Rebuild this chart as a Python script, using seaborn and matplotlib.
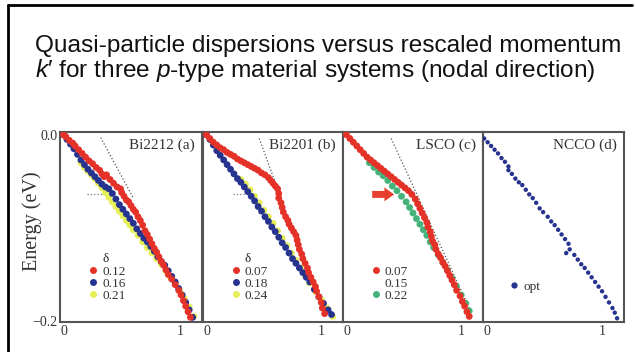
import pandas as pd
import matplotlib.pyplot as plt
import seaborn as sns
from matplotlib.lines import Line2D

sns.set_style("white")
plt.rcParams.update({
    'font.family': ['Liberation Serif', 'DejaVu Serif'],
    'mathtext.fontset': 'custom',
    'mathtext.rm': 'Liberation Sans',
    'mathtext.it': 'Liberation Sans:italic',
})

# ---- datos (k', energia en eV) ----
a_red_k = [0, 0.02, 0.05, 0.08, 0.10, 0.13, 0.16, 0.19, 0.22, 0.25, 0.28, 0.31, 0.33, 0.35, 0.37, 0.40,
           0.43, 0.46, 0.49, 0.50, 0.52, 0.54, 0.56, 0.58, 0.60, 0.62, 0.64, 0.66, 0.68, 0.70, 0.72, 0.74,
           0.76, 0.78, 0.80, 0.82, 0.84, 0.86, 0.88, 0.90, 0.93, 0.96, 0.99, 1.01, 1.03, 1.05, 1.07, 1.09]
a_red_e = [0, -0.002, -0.006, -0.009, -0.012, -0.016, -0.020, -0.024, -0.028, -0.031, -0.035, -0.038,
           -0.042, -0.045, -0.043, -0.048, -0.052, -0.056, -0.058, -0.062, -0.066, -0.070, -0.072, -0.076,
           -0.080, -0.083, -0.088, -0.092, -0.097, -0.103, -0.107, -0.112, -0.117, -0.122, -0.126, -0.131,
           -0.136, -0.140, -0.145, -0.150, -0.155, -0.161, -0.167, -0.172, -0.178, -0.184, -0.190, -0.196]
a_blue_k = [0, 0.03, 0.06, 0.09, 0.12, 0.15, 0.18, 0.21, 0.24, 0.27, 0.30, 0.33, 0.36, 0.39, 0.42, 0.45,
            0.48, 0.51, 0.54, 0.57, 0.60, 0.63, 0.66, 0.69, 0.72, 0.75, 0.78, 0.81, 0.84, 0.87, 0.90, 0.93,
            0.96, 0.99, 1.02, 1.05, 1.08, 1.11]
a_blue_e = [0, -0.005, -0.010, -0.015, -0.021, -0.027, -0.032, -0.037, -0.041, -0.045, -0.049, -0.053,
            -0.056, -0.058, -0.063, -0.069, -0.075, -0.080, -0.085, -0.090, -0.095, -0.101, -0.106, -0.111,
            -0.115, -0.120, -0.125, -0.131, -0.136, -0.140, -0.146, -0.152, -0.158, -0.165, -0.172, -0.180,
            -0.188, -0.196]
a_yel_k = [0.15, 0.18, 0.21, 0.24, 0.27, 0.30, 0.33, 0.36, 0.39, 0.42, 0.45, 0.48, 0.51, 0.54, 0.57, 0.60,
           0.64, 0.68, 0.72, 0.76, 0.80, 0.84, 0.88, 0.92, 0.96, 1.00, 1.04, 1.08, 1.12]
a_yel_e = [-0.030, -0.035, -0.039, -0.043, -0.047, -0.052, -0.057, -0.062, -0.067, -0.072, -0.077, -0.082,
           -0.087, -0.092, -0.097, -0.102, -0.108, -0.115, -0.121, -0.127, -0.133, -0.139, -0.146, -0.153,
           -0.160, -0.168, -0.176, -0.185, -0.195]

b_red_k = [0, 0.03, 0.06, 0.09, 0.12, 0.15, 0.18, 0.21, 0.24, 0.27, 0.30, 0.33, 0.36, 0.39, 0.42, 0.45,
           0.48, 0.51, 0.54, 0.56, 0.58, 0.60, 0.62, 0.63, 0.63, 0.65, 0.66, 0.67, 0.69, 0.71, 0.72, 0.74,
           0.76, 0.78, 0.79, 0.80, 0.81, 0.83, 0.84, 0.86, 0.88, 0.89, 0.91, 0.93, 0.95, 0.96, 0.98, 1.00,
           1.01, 1.03]
b_red_e = [0, -0.004, -0.008, -0.011, -0.014, -0.016, -0.019, -0.021, -0.023, -0.026, -0.028, -0.030,
           -0.032, -0.034, -0.036, -0.038, -0.041, -0.043, -0.046, -0.049, -0.052, -0.055, -0.058, -0.063,
           -0.068, -0.073, -0.078, -0.083, -0.088, -0.092, -0.096, -0.100, -0.104, -0.108, -0.113, -0.118,
           -0.123, -0.128, -0.133, -0.138, -0.143, -0.148, -0.153, -0.158, -0.163, -0.168, -0.174, -0.180,
           -0.186, -0.192]
b_blue_k = [0, 0.03, 0.06, 0.09, 0.12, 0.15, 0.18, 0.21, 0.24, 0.27, 0.30, 0.33, 0.36, 0.39, 0.42, 0.45,
            0.48, 0.51, 0.54, 0.57, 0.60, 0.63, 0.66, 0.69, 0.72, 0.75, 0.78, 0.81, 0.84, 0.87, 0.90, 0.94,
            0.98, 1.02, 1.06, 1.09]
b_blue_e = [0, -0.005, -0.011, -0.017, -0.022, -0.027, -0.032, -0.037, -0.042, -0.047, -0.051, -0.056,
            -0.061, -0.066, -0.071, -0.077, -0.082, -0.088, -0.093, -0.099, -0.104, -0.110, -0.116, -0.121,
            -0.127, -0.133, -0.138, -0.143, -0.148, -0.153, -0.158, -0.166, -0.174, -0.181, -0.188, -0.193]
b_yel_k = [0.30, 0.34, 0.38, 0.42, 0.46, 0.50, 0.54, 0.58, 0.62, 0.66, 0.70, 0.74, 0.78, 0.82, 0.86, 0.90,
           0.95, 1.00, 1.05, 1.10]
b_yel_e = [-0.048, -0.053, -0.059, -0.066, -0.073, -0.081, -0.088, -0.095, -0.103, -0.111, -0.119, -0.127,
           -0.135, -0.143, -0.151, -0.159, -0.168, -0.177, -0.186, -0.195]

c_red_k = [0, 0.03, 0.06, 0.09, 0.12, 0.15, 0.18, 0.21, 0.24, 0.27, 0.30, 0.33, 0.36, 0.39, 0.42, 0.45,
           0.48, 0.51, 0.54, 0.57, 0.60, 0.62, 0.64, 0.66, 0.68, 0.70, 0.71, 0.73, 0.74, 0.75, 0.77, 0.78,
           0.80, 0.82, 0.84, 0.86, 0.88, 0.90, 0.92, 0.94, 0.96, 0.99, 1.01, 1.03, 1.05, 1.07]
c_red_e = [0, -0.004, -0.008, -0.012, -0.016, -0.020, -0.024, -0.027, -0.030, -0.033, -0.036, -0.039,
           -0.042, -0.045, -0.048, -0.051, -0.054, -0.057, -0.060, -0.064, -0.069, -0.074, -0.079, -0.084,
           -0.089, -0.094, -0.099, -0.104, -0.109, -0.114, -0.118, -0.123, -0.128, -0.132, -0.137, -0.141,
           -0.146, -0.151, -0.156, -0.161, -0.167, -0.173, -0.179, -0.184, -0.190, -0.195]
c_grn_k = [0.20, 0.24, 0.28, 0.32, 0.36, 0.40, 0.44, 0.48, 0.52, 0.55, 0.58, 0.61, 0.64, 0.67, 0.70, 0.73,
           0.76, 0.80, 0.84, 0.88, 0.92, 0.96, 1.00, 1.04, 1.07]
c_grn_e = [-0.030, -0.035, -0.040, -0.044, -0.049, -0.055, -0.060, -0.066, -0.072, -0.078, -0.084, -0.090,
           -0.096, -0.102, -0.108, -0.115, -0.121, -0.129, -0.137, -0.145, -0.154, -0.163, -0.172, -0.181,
           -0.189]

d_blue_k = [-0.02, 0.01, 0.04, 0.07, 0.10, 0.13, 0.16, 0.19, 0.19, 0.22, 0.25, 0.28, 0.31, 0.34, 0.37, 0.40,
            0.43, 0.46, 0.49, 0.53, 0.56, 0.59, 0.62, 0.65, 0.68, 0.71, 0.72, 0.69, 0.76, 0.79, 0.82, 0.85,
            0.88, 0.91, 0.94, 0.97, 1.00, 1.03, 1.06, 1.09, 1.11, 1.13]
d_blue_e = [-0.004, -0.008, -0.012, -0.016, -0.020, -0.025, -0.029, -0.034, -0.038, -0.042, -0.047, -0.051,
            -0.054, -0.059, -0.064, -0.068, -0.073, -0.079, -0.083, -0.088, -0.093, -0.097, -0.102, -0.107,
            -0.112, -0.117, -0.123, -0.127, -0.129, -0.134, -0.139, -0.143, -0.148, -0.153, -0.158, -0.163,
            -0.168, -0.174, -0.180, -0.186, -0.191, -0.197]

# lineas guia punteadas (k', E)
a_guide_k, a_guide_e = [0.32, 0.60], [-0.003, -0.068]
b_guide_k, b_guide_e = [0.46, 0.62], [-0.004, -0.058]
c_guide_k, c_guide_e = [0.39, 1.07], [-0.004, -0.186]
a_flat_k, a_flat_e = [0.20, 0.38], [-0.064, -0.064]
b_flat_k, b_flat_e = [0.23, 0.36], [-0.064, -0.064]
c_arrow_k, c_arrow_e = [0.20, 0.44], [-0.064, -0.064]

RED, BLUE, YEL, GRN = '#e53228', '#26338f', '#e6ef55', '#45b27a'

fig = plt.figure(figsize=(6.35, 3.52), dpi=100)

# marco de la diapositiva
fig.add_artist(Line2D([8 / 635, 8 / 635], [0, 1 - 5 / 352], color='black', lw=2))
fig.add_artist(Line2D([8 / 635, 632 / 635], [1 - 5 / 352, 1 - 5 / 352], color='black', lw=2))

fig.text(35 / 635, 1 - 52 / 352, 'Quasi-particle dispersions versus rescaled momentum',
         family='Liberation Sans', fontsize=17.6, va='baseline', ha='left', color='#111111')
fig.text(35 / 635, 1 - 77 / 352, "$k$\u2032 for three $p$-type material systems (nodal direction)",
         family='Liberation Sans', fontsize=17.6, va='baseline', ha='left', color='#111111')

lefts = [60, 203, 343, 483]
widths = [142, 140, 140, 141]
axes = [fig.add_axes([l / 635, 1 - 322 / 352, w / 635, 190 / 352]) for l, w in zip(lefts, widths)]

panels = [
    ('Bi2212 (a)', [(a_yel_k, a_yel_e, YEL), (a_blue_k, a_blue_e, BLUE), (a_red_k, a_red_e, RED)],
     [('0.12', RED), ('0.16', BLUE), ('0.21', YEL)], True),
    ('Bi2201 (b)', [(b_yel_k, b_yel_e, YEL), (b_blue_k, b_blue_e, BLUE), (b_red_k, b_red_e, RED)],
     [('0.07', RED), ('0.18', BLUE), ('0.24', YEL)], True),
    ('LSCO (c)', [(c_grn_k, c_grn_e, GRN), (c_red_k, c_red_e, RED)],
     [('0.07', RED), ('0.15', None), ('0.22', GRN)], False),
    ('NCCO (d)', [(d_blue_k, d_blue_e, BLUE)], [('opt', BLUE)], False),
]

for i, (ax, (name, series, leg, show_delta)) in enumerate(zip(axes, panels)):
    for k, e, col in series:
        df = pd.DataFrame({'k': k, 'E': e})
        sns.scatterplot(data=df, x='k', y='E', color=col, s=24 if i < 3 else 10,
                        edgecolor='none', ax=ax, legend=False, zorder=3)
    ax.set_xlim(-0.03, 1.19)
    ax.set_ylim(-0.201, 0.003)
    ax.set_xticks([0, 0.5, 1])
    ax.set_xticklabels(['0', '', '1'], fontsize=10, color='#333333')
    ax.set_yticks([0, -0.1, -0.2])
    ax.set_xlabel('')
    if i == 0:
        ax.set_yticklabels(['0.0', '', '\u22120.2'], fontsize=10, color='#333333')
        ax.set_ylabel('Energy (eV)', fontsize=14.5, color='#333333')
        ax.yaxis.set_label_coords(-0.125, 0.53)
    else:
        ax.set_yticklabels([])
        ax.set_ylabel('')
    ax.tick_params(direction='in', length=5, width=1.2, color='#444444', pad=2)
    for sp in ax.spines.values():
        sp.set_color('#555555')
        sp.set_linewidth(1.5)
    ax.text(0.95, 0.93, name, transform=ax.transAxes, ha='right', va='center',
            fontsize=11, color='#333333')

    handles, labels = [], []
    for lab, col in leg:
        if col is None:
            handles.append(Line2D([], [], linestyle='', marker=''))
        else:
            handles.append(Line2D([], [], linestyle='', marker='o', markersize=5 if i < 3 else 4.5,
                                  markerfacecolor=col, markeredgecolor='none'))
        labels.append(lab)
    lg = ax.legend(handles, labels, title='\u03b4' if show_delta else None, loc='lower left',
                   bbox_to_anchor=(0.13, 0.07) if i < 3 else (0.12, 0.12), frameon=False,
                   fontsize=9.5, title_fontsize=9.5, handletextpad=0.1, labelspacing=0.0,
                   borderpad=0, handlelength=1.2)
    for t in lg.get_texts():
        t.set_color('#333333')

axes[0].plot(a_guide_k, a_guide_e, ls=':', color='#555555', lw=0.9)
axes[0].plot(a_flat_k, a_flat_e, ls=':', color='#777777', lw=0.9)
axes[1].plot(b_guide_k, b_guide_e, ls=':', color='#555555', lw=0.9)
axes[1].plot(b_flat_k, b_flat_e, ls=':', color='#777777', lw=0.9)
axes[2].plot(c_guide_k, c_guide_e, ls=':', color='#555555', lw=0.9)
axes[2].annotate('', xy=(c_arrow_k[1], c_arrow_e[1]), xytext=(c_arrow_k[0], c_arrow_e[0]),
                 arrowprops=dict(arrowstyle='simple,head_length=0.7,head_width=1.0,tail_width=0.5',
                                 color='#e8402f', lw=0))

fig.savefig('out.png', dpi=100)
